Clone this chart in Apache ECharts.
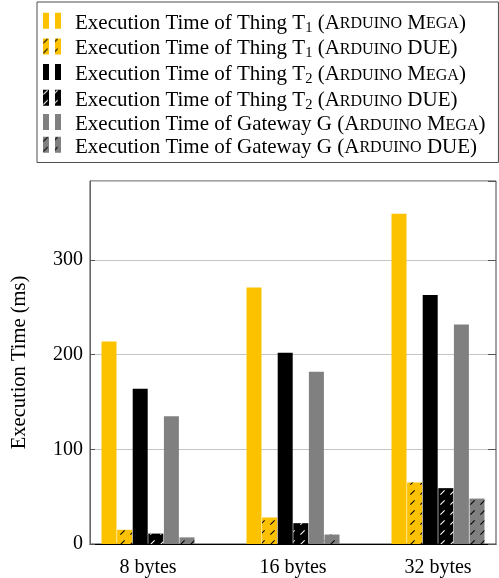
<!DOCTYPE html>
<html>
<head>
<meta charset="utf-8">
<script src="https://cdn.jsdelivr.net/npm/echarts@6/dist/echarts.min.js"></script>
<style>
  html, body { margin: 0; padding: 0; background: #ffffff; }
  #chart { width: 499px; height: 578px; }
</style>
</head>
<body>
<div id="chart"></div>
<script>
// Payload sizes on the x axis
const categories = ['8 bytes', '16 bytes', '32 bytes'];

// Execution times in milliseconds, one array per device / board
const thingT1Mega = [214, 271, 349];
const thingT1Due  = [15, 28, 65];
const thingT2Mega = [164, 202, 263];
const thingT2Due  = [11, 22, 59];
const gatewayMega = [135, 182, 232];
const gatewayDue  = [7, 10, 48];

// Value axis ticks
const yTicks = [0, 100, 200, 300];
const yMax = 383.5;

const seriesNames = [
  'Execution Time of Thing T1 (Arduino Mega)',
  'Execution Time of Thing T1 (Arduino DUE)',
  'Execution Time of Thing T2 (Arduino Mega)',
  'Execution Time of Thing T2 (Arduino DUE)',
  'Execution Time of Gateway G (Arduino Mega)',
  'Execution Time of Gateway G (Arduino DUE)'
];
// Legend text with subscripts and small capitals
const legendLabels = [
  'Execution Time of Thing T{sub|1} (A{sc|RDUINO} M{sc|EGA})',
  'Execution Time of Thing T{sub|1} (A{sc|RDUINO} DUE)',
  'Execution Time of Thing T{sub|2} (A{sc|RDUINO} M{sc|EGA})',
  'Execution Time of Thing T{sub|2} (A{sc|RDUINO} DUE)',
  'Execution Time of Gateway G (A{sc|RDUINO} M{sc|EGA})',
  'Execution Time of Gateway G (A{sc|RDUINO} DUE)'
];
const seriesValues = [thingT1Mega, thingT1Due, thingT2Mega, thingT2Due, gatewayMega, gatewayDue];

const YELLOW = '#fcc200';
const BLACK = '#000000';
const GRAY = '#808080';
const fills = [YELLOW, YELLOW, BLACK, BLACK, GRAY, GRAY];
const hatchInk = [null, '#000000', null, '#ffffff', null, '#000000'];

const SERIF = '"Liberation Serif", "DejaVu Serif", serif';
// short diagonal stroke used for the hatched (DUE) bars
const slash = 'path://M0 8.5L8.5 0L10 1.5L1.5 10Z';

const series = seriesValues.map((vals, k) => {
  const itemStyle = { color: fills[k] };
  if (hatchInk[k]) {
    itemStyle.decal = {
      symbol: slash,
      symbolSize: 1,
      color: hatchInk[k],
      dashArrayX: [5, 5],
      dashArrayY: [5, 5],
      rotation: 0
    };
  }
  return {
    name: seriesNames[k],
    type: 'bar',
    barWidth: 15,
    barGap: '4%',
    itemStyle: itemStyle,
    data: vals.map((v, i) => [i, v])
  };
});

const chart = echarts.init(document.getElementById('chart'), null, { renderer: 'canvas' });

chart.setOption({
  animation: false,
  backgroundColor: '#ffffff',
  legend: {
    orient: 'vertical',
    left: 37,
    top: 2,
    padding: [9.2, 13, 4.8, 6],
    itemGap: 1.7,
    itemWidth: 27,
    itemHeight: 21,
    // two small bars, sitting on the text baseline
    icon: 'path://M0 0H6V16H0Z M12 0H18V16H12Z M27 21',
    borderColor: '#4d4d4d',
    borderWidth: 1,
    data: seriesNames,
    formatter: name => legendLabels[seriesNames.indexOf(name)],
    textStyle: {
      fontFamily: SERIF,
      fontSize: 21,
      lineHeight: 18,
      color: '#000',
      rich: {
        sub: { fontFamily: SERIF, fontSize: 14.5, lineHeight: 9, color: '#000', padding: [9, 0, 0, 0] },
        sc: { fontFamily: SERIF, fontSize: 16, lineHeight: 16, color: '#000', padding: [2, 0, 0, 0] }
      }
    }
  },
  grid: {
    left: 90,
    top: 181,
    right: -6,
    bottom: 32,
    show: true,
    borderColor: '#444',
    borderWidth: 1
  },
  xAxis: {
    type: 'value',
    min: -0.4,
    max: 2.4,
    interval: 0.2,
    axisLine: { show: true, onZero: false, lineStyle: { color: '#000', width: 1.2 } },
    axisTick: { show: false },
    splitLine: { show: false },
    axisLabel: {
      fontFamily: SERIF,
      fontSize: 20,
      color: '#000',
      margin: 14,
      showMinLabel: true,
      showMaxLabel: true,
      formatter: v => {
        const i = Math.round(v);
        return Math.abs(v - i) < 1e-6 && categories[i] !== undefined ? categories[i] : '';
      }
    }
  },
  yAxis: [
    {
      type: 'value',
      min: 0,
      max: yMax,
      interval: 100,
      name: 'Execution Time (ms)',
      nameLocation: 'middle',
      nameGap: 60,
      nameRotate: 90,
      nameTextStyle: { fontFamily: SERIF, fontSize: 20.5, color: '#000' },
      axisLine: { show: true, onZero: false, lineStyle: { color: '#666', width: 1 } },
      axisTick: { show: true, inside: true, length: 5, lineStyle: { color: '#555' } },
      splitLine: { show: true, lineStyle: { color: '#c4c4c4', width: 1 } },
      axisLabel: {
        fontFamily: SERIF,
        fontSize: 20,
        color: '#000',
        margin: 7,
        showMaxLabel: false,
        formatter: v => (yTicks.indexOf(v) >= 0 ? String(v) : '')
      }
    },
    {
      type: 'value',
      position: 'right',
      min: 0,
      max: yMax,
      interval: 100,
      axisLine: { show: false, onZero: false },
      axisTick: { show: true, inside: true, length: 8, lineStyle: { color: '#555' } },
      splitLine: { show: false },
      axisLabel: { show: false }
    }
  ],
  series: series
});
</script>
</body>
</html>
